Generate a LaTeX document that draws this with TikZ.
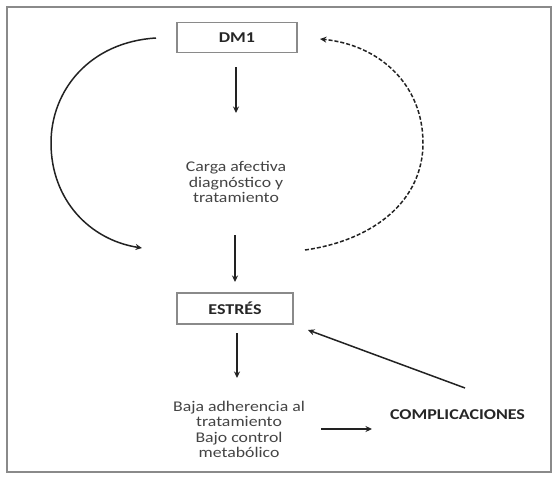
\documentclass[tikz,border=0pt]{standalone}
\usepackage{fontspec}
\setmainfont{Carlito}[FakeStretch=1.2]
\usetikzlibrary{arrows.meta}

\definecolor{boxgray}{HTML}{8A8A8A}
\definecolor{txtgray}{HTML}{444444}
\definecolor{linegray}{HTML}{222222}

\tikzset{
  box/.style={draw=boxgray,line width=1.2pt,minimum width=120pt,minimum height=30pt,
    font=\fontsize{15}{17}\selectfont\bfseries,text=black!85},
  txt/.style={align=center,text=txtgray,font=\fontsize{14.8}{15.5}\selectfont},
  arr/.style={linegray,line width=1.5pt,-{Stealth[length=6.5pt,width=6pt]}}
}

\begin{document}
\begin{tikzpicture}[x=1pt,y=-1pt]
\useasboundingbox (0,0) rectangle (558,480);
\draw[boxgray,line width=1.2pt] (7,7) rectangle (551,472);

\node (dm) [box] at (237,37.5) {DM1};
\node (carga) [txt] at (236,182) {Carga afectiva\\diagnóstico y\\tratamiento};
\node (estres) [box,minimum width=116pt,minimum height=31pt] at (235,308.5) {ESTRÉS};
\node (baja) [txt] at (239,429.5) {Baja adherencia al\\tratamiento\\Bajo control\\metabólico};
\node (comp) [box,draw=none] at (457.5,415) {COMPLICACIONES};

\coordinate (dmout) at (236,67);
\coordinate (cargain) at (236,113);
\coordinate (cargaout) at (235,235);
\coordinate (estresin) at (235,282);
\coordinate (estresout) at (237,333);
\coordinate (bajain) at (237,378);
\coordinate (bajaout) at (321,429);
\coordinate (compin) at (372,429);
\coordinate (compout) at (465,388);
\coordinate (estresback) at (308,330);
\coordinate (leftstart) at (156,38);
\coordinate (leftend) at (142,248);
\coordinate (rightstart) at (305,250);
\coordinate (rightend) at (320,39);

\draw[arr] (dmout) -- (cargain);
\draw[arr] (cargaout) -- (estresin);
\draw[arr] (estresout) -- (bajain);
\draw[arr] (bajaout) -- (compin);
\draw[arr] (compout) -- (estresback);
\draw[arr] (leftstart) .. controls (90,42) and (51,90) .. (51,143)
  .. controls (51,200) and (90,240) .. (leftend);
\draw[arr,dash pattern=on 4pt off 2pt] (rightstart) .. controls (375,240) and (423,200) .. (423,143)
  .. controls (423,85) and (380,45) .. (rightend);
\end{tikzpicture}
\end{document}
